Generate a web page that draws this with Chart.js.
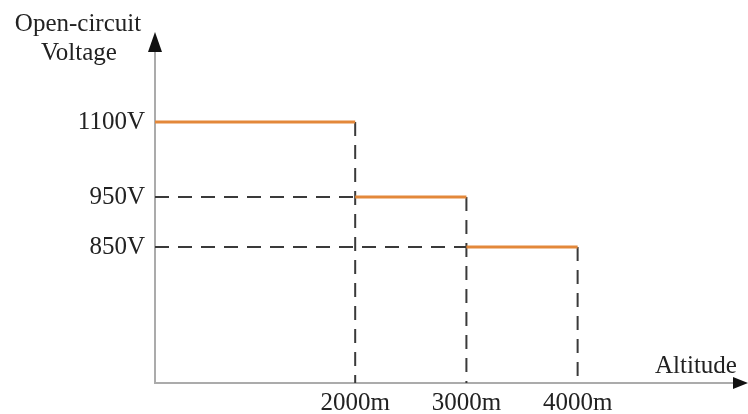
<!DOCTYPE html>
<html>
<head>
<meta charset="utf-8">
<script src="https://cdn.jsdelivr.net/npm/chart.js@4"></script>
<style>
  html, body { margin: 0; padding: 0; background: #fff; }
  #wrap { width: 748px; height: 414px; }
</style>
</head>
<body>
<div id="wrap"><canvas id="myChart" width="748" height="414"></canvas></div>
<script>
const altitudes = [2000, 3000, 4000];
const voltages = [1100, 950, 850];
const altitudeLabels = ['2000m', '3000m', '4000m'];
const voltageLabels = ['1100V', '950V', '850V'];

const xMin = 200, xMax = 5460;
const yMin = 578, yMax = 1254;
const serif = '"Liberation Serif", "DejaVu Serif", serif';

// orange limit segments, one per altitude band
const limitData = [];
let prevAlt = xMin;
altitudes.forEach((a, i) => {
    limitData.push({ x: prevAlt, y: voltages[i] });
    limitData.push({ x: a, y: voltages[i] });
    limitData.push({ x: a, y: null });
    prevAlt = a;
});

// dashed guide lines
const guideData = [];
altitudes.forEach((a, i) => {
    guideData.push({ x: a, y: voltages[i] });
    guideData.push({ x: a, y: yMin });
    guideData.push({ x: a, y: null });
    if (i > 0) {
        guideData.push({ x: xMin, y: voltages[i] });
        guideData.push({ x: altitudes[i - 1], y: voltages[i] });
        guideData.push({ x: xMin, y: null });
    }
});

const axisDecor = {
    id: 'axisDecor',
    afterDraw(chart) {
        const c = chart.ctx, a = chart.chartArea;
        c.save();
        c.fillStyle = '#111';
        // y arrow
        c.beginPath();
        c.moveTo(a.left, 32);
        c.lineTo(a.left - 7, 52);
        c.lineTo(a.left + 7, 52);
        c.closePath();
        c.fill();
        // x arrow
        c.beginPath();
        c.moveTo(748, a.bottom);
        c.lineTo(733, a.bottom - 6);
        c.lineTo(733, a.bottom + 6);
        c.closePath();
        c.fill();
        c.fillStyle = '#222';
        c.font = '25px ' + serif;
        c.textAlign = 'center';
        c.textBaseline = 'alphabetic';
        c.fillText('Open-circuit', 78, 31);
        c.fillText('Voltage', 79, 60);
        c.fillText('Altitude', 696, 373);
        c.restore();
    }
};

const ctx = document.getElementById('myChart').getContext('2d');
const chart = new Chart(ctx, {
    type: 'line',
    data: {
        datasets: [{
            label: 'limit',
            data: limitData,
            borderColor: '#e3883a',
            borderWidth: 3,
            pointRadius: 0,
            spanGaps: false,
            order: 1
        }, {
            label: 'guides',
            data: guideData,
            borderColor: '#3a3a3a',
            borderWidth: 2,
            borderDash: [14, 9],
            pointRadius: 0,
            spanGaps: false,
            order: 2
        }]
    },
    options: {
        responsive: false,
        animation: false,
        layout: { padding: { top: 45, right: 8, left: 0, bottom: 0 } },
        plugins: { legend: { display: false }, tooltip: { enabled: false } },
        scales: {
            x: {
                type: 'linear',
                min: xMin,
                max: xMax,
                afterBuildTicks: s => { s.ticks = altitudes.map(v => ({ value: v })); },
                afterFit: s => { s.height = 31; },
                grid: { display: false, drawTicks: false },
                border: { display: true, color: '#ababab', width: 2 },
                ticks: {
                    autoSkip: false,
                    maxRotation: 0,
                    padding: 5,
                    color: '#222',
                    font: { family: serif, size: 25 },
                    callback: v => altitudeLabels[altitudes.indexOf(v)]
                }
            },
            y: {
                type: 'linear',
                min: yMin,
                max: yMax,
                afterBuildTicks: s => { s.ticks = voltages.map(v => ({ value: v })); },
                afterFit: s => { s.width = 155; },
                grid: { display: false, drawTicks: false },
                border: { display: true, color: '#ababab', width: 2 },
                ticks: {
                    autoSkip: false,
                    padding: 10,
                    color: '#222',
                    font: { family: serif, size: 25 },
                    callback: v => voltageLabels[voltages.indexOf(v)]
                }
            }
        }
    },
    plugins: [axisDecor]
});
</script>
</body>
</html>
